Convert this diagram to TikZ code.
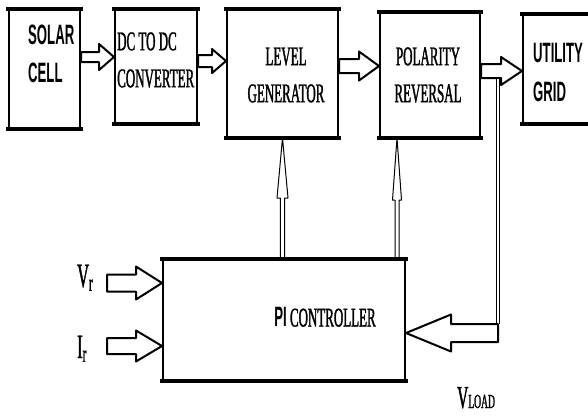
\documentclass[tikz,border=0pt]{standalone}
\usepackage{fontspec}
\setmainfont{Liberation Serif}[FakeStretch=0.48, FakeBold=1.2]
\newfontfamily\narrowsf{Liberation Sans}[FakeStretch=0.47]
\usetikzlibrary{calc, positioning}

\begin{document}
\begin{tikzpicture}[
  x=1pt, y=-1pt,
  block/.style={draw, line width=2pt, inner sep=0pt,
    append after command={
      (\tikzlastnode.north west) edge[line width=3.5pt, line cap=rect] (\tikzlastnode.north east)
      (\tikzlastnode.south west) edge[line width=3.5pt, line cap=rect] (\tikzlastnode.south east)}},
  txt/.style={inner sep=0pt, font=\fontsize{27}{37}\selectfont},
  sftxt/.style={inner sep=0pt, font=\narrowsf\bfseries\fontsize{28}{38.5}\selectfont},
  sig/.style={inner sep=0pt, anchor=base west, font=\fontsize{34}{40}\selectfont},
  hollow/.style n args={3}{line join=round, to path={
    ($(\tikztotarget)!#3!(\tikztostart)$) coordinate (hd)
    ($(\tikztostart)!#1!90:(\tikztotarget)$) -- ($(hd)!#1!90:(\tikztotarget)$)
    -- ($(hd)!#2!90:(\tikztotarget)$) -- (\tikztotarget)
    -- ($(hd)!#2!-90:(\tikztotarget)$) -- ($(hd)!#1!-90:(\tikztotarget)$)
    -- ($(\tikztostart)!#1!-90:(\tikztotarget)$) -- cycle}},
  fat/.style n args={3}{draw, line width=2pt, hollow={#1}{#2}{#3}},
  slim/.style n args={3}{draw, line width=1pt, hollow={#1}{#2}{#3}},
  wire/.style={draw, double, double distance=2.2pt, line width=0.9pt},
]
\useasboundingbox (0,0) rectangle (588,416);

% top row of blocks
\node[block, minimum width=71pt, minimum height=118pt] (solar) at (44.5,69) {};
\node[block, minimum width=82pt, minimum height=113pt] (dcdc) at (156,66.5) {};
\node[block, minimum width=111pt, minimum height=127pt] (level) at (282.5,73.5) {};
\node[block, minimum width=100pt, minimum height=124pt] (polar) at (430,75) {};
\node[block, minimum width=80pt, minimum height=108pt] (grid) at (563,69) {};

\node[sftxt, anchor=west, align=left] at (28,54) {SOLAR\\CELL};
\node[txt, anchor=west, align=left] at (117,60) {DC TO DC\\CONVERTER};
\node[txt, align=center] at (286,75) {LEVEL\\GENERATOR};
\node[txt, align=center] at (428,75) {POLARITY\\REVERSAL};
\node[sftxt, anchor=west, align=left] at (533,72.5) {UTILITY\\GRID};

% controller
\node[block, minimum width=242pt, minimum height=120pt] (pi) at (284,320) {};
\node[txt] (pitext) at (325,317) {{\narrowsf\bfseries\fontsize{28}{34}\selectfont PI} CONTROLLER};

% signal labels
\node[sig] (vr) at (77,287) {V\textsubscript{r}};
\node[sig] (ir) at (77,358) {I\textsubscript{r}};
\node[sig, font=\fontsize{32}{38}\selectfont] (vload) at (457,408) {V{\fontsize{20}{24}\selectfont LOAD}};

\coordinate (vrin) at (107,283);
\coordinate (irin) at (107,346);
\coordinate (tap) at (498,79);
\coordinate (fb) at (498,333);

% power path
\draw[fat={5pt}{13pt}{15pt}] ([yshift=12pt]solar.east) to ([yshift=12pt]solar.east -| dcdc.west);
\draw[fat={6pt}{12pt}{14pt}] ([yshift=5.5pt]dcdc.east) to ([yshift=5.5pt]dcdc.east -| level.west);
\draw[fat={7pt}{14.5pt}{20pt}] ([yshift=7.5pt]level.east) to ([yshift=7.5pt]level.east -| polar.west);
\draw[fat={7pt}{14pt}{21pt}] ([yshift=4pt]polar.east) to ([yshift=4pt]polar.east -| grid.west);

% references and feedback
\draw[fat={8.5pt}{16.5pt}{26pt}] (vrin) to (vrin -| pi.west);
\draw[fat={8pt}{15.5pt}{26pt}] (irin) to (irin -| pi.west);
\draw[wire] (tap) -- ([yshift=9pt]fb);
\draw[fat={9pt}{18.5pt}{45pt}] (fb) to (fb -| pi.east);

% control signals
\draw[slim={2.2pt}{5.5pt}{60pt}] (pi.north -| level.south) to (level.south);
\draw[slim={2pt}{4.5pt}{62pt}] ([xshift=113pt]pi.north) to ([xshift=113pt]pi.north |- polar.south);
\end{tikzpicture}
\end{document}
